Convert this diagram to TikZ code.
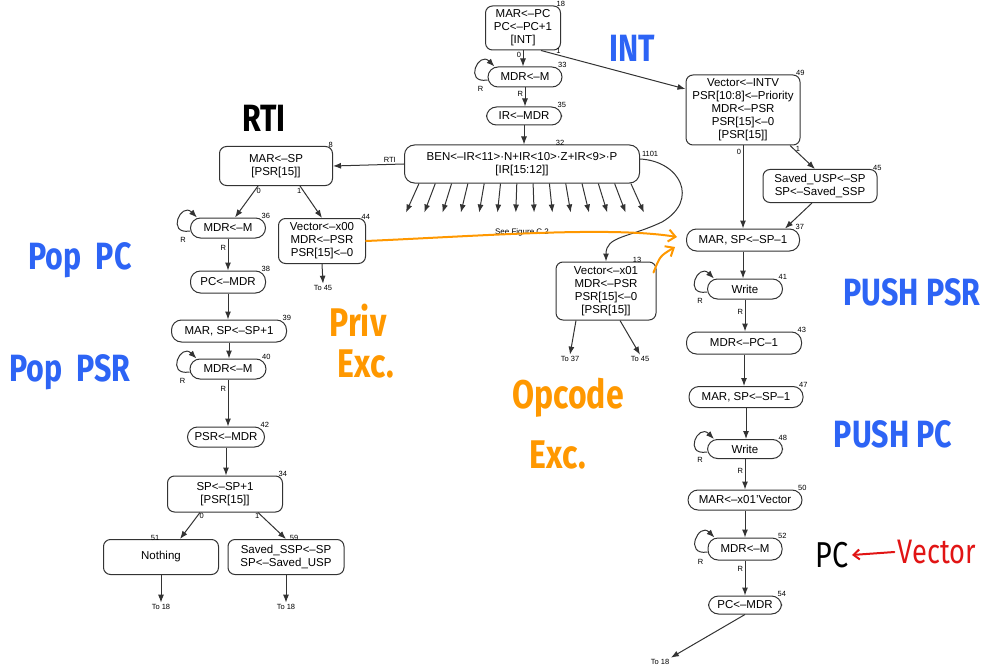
\documentclass[tikz,border=0pt]{standalone}
\usepackage{fontspec}
\setmainfont{Liberation Sans}
\newfontfamily\hand{Fira Sans}[FakeStretch=0.8]
\usetikzlibrary{arrows.meta}

\definecolor{hblue}{RGB}{45,100,245}
\definecolor{horange}{RGB}{255,152,0}
\definecolor{hred}{RGB}{225,20,20}

\tikzset{
  st/.style={draw=black!80, line width=1pt, rounded corners=7pt, align=center,
    inner sep=2pt, font=\fontsize{11.5}{13}\selectfont},
  pill/.style={st, rounded corners=10pt, minimum height=20pt},
  num/.style={font=\fontsize{7.5}{8}\selectfont, inner sep=0.5pt, xshift=-5pt, yshift=-2pt},
  lbl/.style={font=\fontsize{7.5}{8}\selectfont, inner sep=1.5pt},
  arr/.style={draw=black!80, line width=1pt, -{Latex[length=8pt,width=6pt]}},
  bluehand/.style={text=hblue, font=\hand\bfseries\fontsize{38}{40}\selectfont},
  blackhand/.style={text=black, font=\hand\bfseries\fontsize{38}{40}\selectfont},
  orangehand/.style={text=horange, inner sep=0pt, font=\hand\bfseries\fontsize{40}{42}\selectfont},
  opath/.style={draw=horange, line width=2pt, line cap=round, -{Straight Barb[length=7pt,width=12pt]}},
  redpen/.style={draw=hred, line width=2pt, line cap=round, -{Straight Barb[length=6pt,width=10pt]}}
}

% lazo R a la izquierda de un estado
\newcommand{\rloop}[1]{%
  \draw[arr] ([yshift=-3pt]#1.west) .. controls +(-24,-4) and +(-16,16) .. ([xshift=7pt]#1.north west);
  \node[lbl] at ([xshift=-7pt,yshift=-1pt]#1.south west) {R};}

\begin{document}
\begin{tikzpicture}[x=1pt,y=1pt]
    \useasboundingbox (0,0) rectangle (1000,-671);

    % Estados del centro
    \node[st, minimum width=75pt, minimum height=44pt, label={[num]north east:18}] (s18) at (523,-28) {MAR<--PC\\PC<--PC+1\\{}[INT]};
    \node[pill, minimum width=74pt, label={[num]north east:33}] (s33) at (525,-77) {MDR<--M};
    \node[pill, minimum width=75pt, minimum height=18pt, label={[num]north east:35}] (s35) at (524,-116) {IR<--MDR};
    \node[st, rounded corners=10pt, minimum width=235pt, minimum height=38pt, label={[num,xshift=43pt]north:32}] (s32) at (522,-164)
      {BEN<--IR<11>\textperiodcentered N+IR<10>\textperiodcentered Z+IR<9>\textperiodcentered P\\{}[IR[15:12]]};
    \node[lbl, font=\fontsize{8}{9}\selectfont] (seefig) at (522,-232) {See Figure C.2};
    \node[st, minimum width=100pt, minimum height=58pt, label={[num,xshift=36pt]north:13}] (s13) at (606,-291)
      {Vector<--x01\\MDR<--PSR\\PSR[15]<--0\\{}[PSR[15]]};
    \node[lbl] (t37) at (570,-359) {To 37};
    \node[lbl] (t45b) at (640,-359) {To 45};

    % Estados de la izquierda (RTI)
    \node[st, minimum width=113pt, minimum height=39pt, label={[num]north east:8}] (s8) at (276,-166) {MAR<--SP\\{}[PSR[15]]};
    \node[pill, minimum width=75pt, label={[num]north east:36}] (s36) at (228,-228) {MDR<--M};
    \node[st, minimum width=87pt, minimum height=45pt, label={[num]north east:44}] (s44) at (322,-241) {Vector<--x00\\MDR<--PSR\\PSR[15]<--0};
    \node[lbl] (t45a) at (323,-288) {To 45};
    \node[pill, minimum width=75pt, minimum height=22pt, label={[num]north east:38}] (s38) at (228,-282) {PC<--MDR};
    \node[pill, minimum width=115pt, minimum height=22pt, label={[num]north east:39}] (s39) at (229,-331) {MAR, SP<--SP+1};
    \node[pill, minimum width=76pt, label={[num]north east:40}] (s40) at (228,-369) {MDR<--M};
    \node[pill, minimum width=77pt, label={[num]north east:42}] (s42) at (226,-437) {PSR<--MDR};
    \node[st, minimum width=115pt, minimum height=36pt, label={[num]north east:34}] (s34) at (225,-494) {SP<--SP+1\\{}[PSR[15]]};
    \node[st, minimum width=115pt, minimum height=35pt, label={[num,xshift=-1pt]north:51}] (s51) at (161,-557) {Nothing};
    \node[st, minimum width=116pt, minimum height=35pt, label={[num,xshift=13pt]north:59}] (s59) at (286,-557) {Saved\_SSP<--SP\\SP<--Saved\_USP};
    \node[lbl] (t18a) at (161,-607) {To 18};
    \node[lbl] (t18b) at (286,-607) {To 18};

    % Estados de la derecha (INT)
    \node[st, minimum width=114pt, minimum height=70pt, label={[num]north east:49}] (s49) at (743,-110)
      {Vector<--INTV\\PSR[10:8]<--Priority\\MDR<--PSR\\PSR[15]<--0\\{}[PSR[15]]};
    \node[st, minimum width=114pt, minimum height=33pt, label={[num]north east:45}] (s45) at (820,-186) {Saved\_USP<--SP\\SP<--Saved\_SSP};
    \node[pill, minimum width=113pt, minimum height=22pt, label={[num]north east:37}] (s37) at (743,-240) {MAR, SP<--SP--1};
    \node[pill, minimum width=75pt, label={[num]north east:41}] (s41) at (745,-289) {Write};
    \node[pill, minimum width=115pt, minimum height=22pt, label={[num]north east:43}] (s43) at (744,-343) {MDR<--PC--1};
    \node[pill, minimum width=114pt, minimum height=21pt, label={[num]north east:47}] (s47) at (746,-397) {MAR, SP<--SP--1};
    \node[pill, minimum width=75pt, minimum height=19pt, label={[num]north east:48}] (s48) at (745,-449) {Write};
    \node[pill, minimum width=114pt, label={[num]north east:50}] (s50) at (745,-500) {MAR<--x01'Vector};
    \node[pill, minimum width=74pt, minimum height=22pt, label={[num]north east:52}] (s52) at (745,-549) {MDR<--M};
    \node[pill, minimum width=73pt, minimum height=18pt, label={[num]north east:54}] (s54) at (745,-605) {PC<--MDR};
    \node[lbl] (t18c) at (660,-662) {To 18};

    % Flechas del centro
    \draw[arr] (s18.south) -- node[lbl, left, pos=0.3] {0} (s18.south |- s33.north);
    \draw[arr] ([xshift=18pt]s18.south) -- node[lbl, above, pos=0.12] {1} ([yshift=21pt]s49.west);
    \draw[arr] (s33.south) -- node[lbl, left, pos=0.35] {R} (s33.south |- s35.north);
    \draw[arr] (s35.south) -- (s35.south |- s32.north);
    \draw[arr] (s32.west) -- node[lbl, above, pos=0.2] {RTI} (s8.east);
    \foreach \i in {0,...,13}
      \draw[arr] ([xshift=15+16.3*\i]s32.south west) -- ++(-13+2*\i,-29);
    \draw[arr] ([yshift=5pt]s32.east) node[lbl, above right] {1101}
      .. controls +(40,-2) and (700,-200) .. (662,-222) .. controls (628,-238) and (606,-236) .. (s13.north);
    \draw[arr] ([xshift=-30pt]s13.south) -- (t37.north);
    \draw[arr] ([xshift=14pt]s13.south) -- (t45b.north);

    % Flechas de la izquierda
    \draw[arr] ([xshift=-18pt]s8.south) -- node[lbl, right, pos=0.15] {0} ([xshift=7pt]s36.north);
    \draw[arr] ([xshift=24pt]s8.south) -- node[lbl, left, pos=0.15] {1} (s44.north);
    \draw[arr] (s44.south) -- (t45a.north);
    \draw[arr] (s36.south) -- node[lbl, left, pos=0.3] {R} (s36.south |- s38.north);
    \draw[arr] (s38.south) -- (s38.south |- s39.north);
    \draw[arr] (s39.south) -- (s39.south |- s40.north);
    \draw[arr] (s40.south) -- node[lbl, left, pos=0.2] {R} (s40.south |- s42.north);
    \draw[arr] (s42.south) -- (s42.south |- s34.north);
    \draw[arr] ([xshift=-25pt]s34.south) -- node[lbl, right, pos=0.12] {0} ([xshift=19pt]s51.north);
    \draw[arr] ([xshift=33pt]s34.south) -- node[lbl, left, pos=0.12] {1} (s59.north);
    \draw[arr] (s51.south) -- (t18a.north);
    \draw[arr] (s59.south) -- (t18b.north);

    % Flechas de la derecha
    \draw[arr] (s49.south) -- node[lbl, left, pos=0.08] {0} (s49.south |- s37.north);
    \draw[arr] ([xshift=47pt]s49.south) -- node[lbl, right, pos=0.15] {1} ([xshift=-5pt]s45.north);
    \draw[arr] ([xshift=-8pt]s45.south) -- ([xshift=42pt]s37.north);
    \draw[arr] (s37.south) -- (s37.south |- s41.north);
    \draw[arr] (s41.south) -- node[lbl, left, pos=0.4] {R} (s41.south |- s43.north);
    \draw[arr] (s43.south) -- (s43.south |- s47.north);
    \draw[arr] (s47.south) -- (s47.south |- s48.north);
    \draw[arr] (s48.south) -- node[lbl, left, pos=0.4] {R} (s48.south |- s50.north);
    \draw[arr] (s50.south) -- (s50.south |- s52.north);
    \draw[arr] (s52.south) -- node[lbl, left, pos=0.25] {R} (s52.south |- s54.north);
    \draw[arr] (s54.south) -- (t18c.north east);

    % Lazos de espera
    \rloop{s33}
    \rloop{s36}
    \rloop{s40}
    \rloop{s41}
    \rloop{s48}
    \rloop{s52}

    % Notas a mano
    \node[bluehand] (intnote) at (632,-48) {INT};
    \node[blackhand] (rtinote) at (264,-118) {RTI};
    \node[bluehand] (poppc) at (80,-260) {Pop\ \ PC};
    \node[bluehand] (poppsr) at (70,-372) {Pop\ \ PSR};
    \node[orangehand] (priv) at (358,-320) {Priv};
    \node[orangehand] (privexc) at (366,-364) {Exc.};
    \node[orangehand] (opcode) at (568,-398) {Opcode};
    \node[orangehand] (opcexc) at (558,-455) {Exc.};
    \node[bluehand] (pushpsr) at (912,-292) {PUSH PSR};
    \node[bluehand] (pushpc) at (893,-434) {PUSH PC};
    \node[text=black, font=\hand\fontsize{36}{38}\selectfont] (pcnote) at (832,-555) {PC};
    \node[text=hred, font=\hand\fontsize{34}{36}\selectfont] (vecnote) at (937,-552) {Vector};

    % Flechas a mano
    \coordinate (privtip) at ([xshift=-9pt,yshift=3pt]s37.west);
    \coordinate (opctip) at ([xshift=-11pt,yshift=-7pt]s37.west);
    \draw[opath] (s44.east) .. controls (480,-236) and (610,-226) .. (privtip);
    \draw[opath] ([xshift=-3pt,yshift=-11pt]s13.north east) .. controls (660,-256) .. (opctip);
    \draw[redpen] (vecnote.west) -- (pcnote.east);
\end{tikzpicture}
\end{document}
